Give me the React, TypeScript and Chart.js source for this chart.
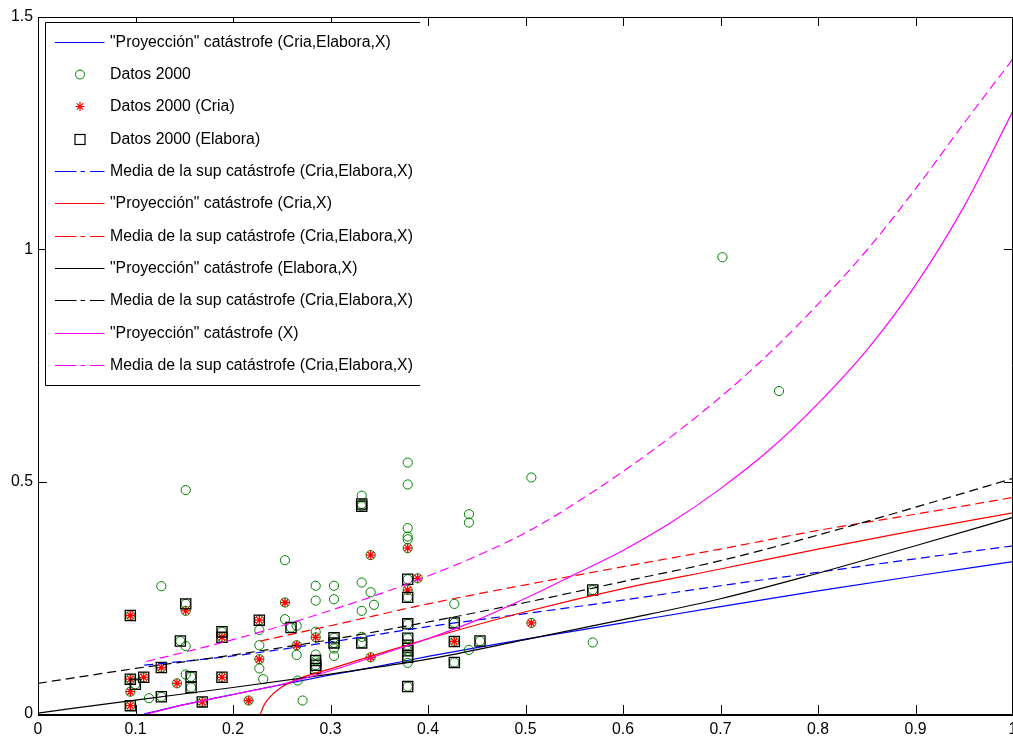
import React, { useEffect, useRef } from 'react';
import { Chart, registerables } from 'chart.js';

Chart.register(...registerables);

// ---------- tick labels ----------
const xTickValues = [0, 0.1, 0.2, 0.3, 0.4, 0.5, 0.6, 0.7, 0.8, 0.9, 1];
const xTickLabels = ['0', '0.1', '0.2', '0.3', '0.4', '0.5', '0.6', '0.7', '0.8', '0.9', '1'];
const yTickValues = [0, 0.5, 1, 1.5];
const yTickLabels = ['0', '0.5', '1', '1.5'];

// ---------- legend labels ----------
const legendLabels = [
  '"Proyección" catástrofe (Cria,Elabora,X)',
  'Datos 2000',
  'Datos 2000 (Cria)',
  'Datos 2000 (Elabora)',
  'Media de la sup catástrofe (Cria,Elabora,X)',
  '"Proyección" catástrofe (Cria,X)',
  'Media de la sup catástrofe (Cria,Elabora,X)',
  '"Proyección" catástrofe (Elabora,X)',
  'Media de la sup catástrofe (Cria,Elabora,X)',
  '"Proyección" catástrofe (X)',
  'Media de la sup catástrofe (Cria,Elabora,X)',
];

// ---------- curves ----------
const blueSolidX = [0.109, 0.15, 0.2, 0.25, 0.3, 0.35, 0.4, 0.45, 0.5, 0.6, 0.7, 0.8, 0.9, 1.0];
const blueSolidY = [0.0, 0.02, 0.042, 0.063, 0.084, 0.103, 0.124, 0.143, 0.161, 0.196, 0.231, 0.265, 0.297, 0.328];

const blueDashX = [0.109, 0.2, 0.3, 0.4, 0.5, 0.6, 0.7, 0.8, 0.9, 1.0];
const blueDashY = [0.105, 0.125, 0.155, 0.188, 0.216, 0.245, 0.276, 0.305, 0.334, 0.362];

const redSolidX = [0.228, 0.232, 0.238, 0.25, 0.27, 0.3, 0.35, 0.4, 0.5, 0.6, 0.7, 0.8, 0.9, 1.0];
const redSolidY = [0.0, 0.02, 0.037, 0.058, 0.078, 0.097, 0.13, 0.162, 0.22, 0.27, 0.312, 0.355, 0.395, 0.433];

const redDashX = [0.228, 0.3, 0.4, 0.5, 0.6, 0.7, 0.8, 0.9, 1.0];
const redDashY = [0.157, 0.19, 0.237, 0.278, 0.317, 0.355, 0.395, 0.43, 0.466];

const blackSolidX = [0, 0.1, 0.2, 0.3, 0.4, 0.5, 0.6, 0.7, 0.8, 0.9, 1.0];
const blackSolidY = [0.002, 0.03, 0.057, 0.086, 0.118, 0.16, 0.203, 0.248, 0.303, 0.362, 0.423];

const blackDashX = [0, 0.1, 0.2, 0.3, 0.4, 0.5, 0.6, 0.7, 0.8, 0.9, 1.0];
const blackDashY = [0.066, 0.098, 0.127, 0.16, 0.198, 0.24, 0.285, 0.33, 0.385, 0.445, 0.507];

const magSolidX = [0.111, 0.15, 0.2, 0.25, 0.3, 0.35, 0.4, 0.45, 0.5, 0.55, 0.6, 0.65, 0.7, 0.75, 0.8, 0.85, 0.9, 0.95, 1.0];
const magSolidY = [0.0, 0.02, 0.042, 0.064, 0.093, 0.127, 0.162, 0.202, 0.249, 0.3, 0.352, 0.413, 0.485, 0.568, 0.668, 0.783, 0.923, 1.093, 1.298];

const magDashX = [0.111, 0.15, 0.2, 0.25, 0.3, 0.35, 0.4, 0.45, 0.5, 0.55, 0.6, 0.65, 0.7, 0.75, 0.8, 0.85, 0.9, 0.95, 1.0];
const magDashY = [0.113, 0.133, 0.16, 0.19, 0.223, 0.258, 0.297, 0.34, 0.39, 0.452, 0.522, 0.598, 0.682, 0.776, 0.882, 0.998, 1.13, 1.272, 1.41];

// ---------- data points ----------
const datosX = [
  0.0947, 0.0947, 0.0947, 0.0947, 0.0998, 0.1084, 0.1138, 0.1265, 0.1265, 0.1265,
  0.1426, 0.146, 0.1515, 0.1515, 0.1515, 0.1515, 0.1515, 0.157, 0.157, 0.1685,
  0.1887, 0.1887, 0.1887, 0.216, 0.227, 0.227, 0.227, 0.227, 0.227, 0.231,
  0.2533, 0.2533, 0.2533, 0.2595, 0.2653, 0.2653, 0.2653, 0.2663, 0.2714,
  0.2848, 0.2848, 0.2848, 0.2848, 0.2848, 0.2848, 0.2848, 0.2848,
  0.3036, 0.3036, 0.3036, 0.3036, 0.3036, 0.3036,
  0.332, 0.332, 0.332, 0.332, 0.332, 0.332, 0.332,
  0.3412, 0.3412, 0.3412, 0.3446,
  0.3792, 0.3792, 0.3792, 0.3792, 0.3792, 0.3792, 0.3792, 0.3792, 0.3792, 0.3792, 0.3792, 0.3792, 0.3792, 0.3792, 0.3792, 0.3792,
  0.3894, 0.427, 0.427, 0.427, 0.427, 0.442, 0.442, 0.442, 0.4533,
  0.506, 0.506, 0.569, 0.569, 0.702, 0.76,
];
const datosY = [
  0.212, 0.075, 0.048, 0.018, 0.064, 0.079, 0.034, 0.275, 0.1, 0.037,
  0.066, 0.157, 0.482, 0.237, 0.222, 0.146, 0.085, 0.08, 0.057, 0.026,
  0.177, 0.165, 0.079, 0.029, 0.202, 0.181, 0.148, 0.118, 0.098, 0.075,
  0.331, 0.24, 0.204, 0.186, 0.19, 0.148, 0.127, 0.072, 0.029,
  0.276, 0.244, 0.177, 0.165, 0.128, 0.115, 0.105, 0.098,
  0.276, 0.247, 0.164, 0.153, 0.141, 0.125,
  0.47, 0.452, 0.447, 0.283, 0.222, 0.166, 0.153,
  0.342, 0.262, 0.122, 0.235,
  0.541, 0.494, 0.4, 0.382, 0.376, 0.357, 0.29, 0.267, 0.251, 0.194, 0.163, 0.148, 0.136, 0.122, 0.11, 0.059,
  0.292, 0.237, 0.196, 0.156, 0.111, 0.43, 0.412, 0.138, 0.157,
  0.509, 0.196, 0.267, 0.154, 0.983, 0.695,
];

const criaX = [
  0.0947, 0.0947, 0.0947, 0.0947, 0.1084, 0.1265, 0.1426, 0.1515, 0.1685, 0.1887, 0.1887,
  0.216, 0.227, 0.227, 0.2533, 0.2653, 0.2848, 0.3412, 0.3412, 0.3792, 0.3792, 0.3894, 0.427, 0.506,
];
const criaY = [
  0.212, 0.075, 0.048, 0.018, 0.079, 0.1, 0.066, 0.222, 0.026, 0.165, 0.079,
  0.029, 0.202, 0.118, 0.24, 0.148, 0.165, 0.342, 0.122, 0.357, 0.267, 0.292, 0.156, 0.196,
];

const elaboraX = [
  0.0947, 0.0947, 0.0947, 0.0998, 0.1084, 0.1265, 0.1265, 0.146, 0.1515, 0.157, 0.157, 0.1685,
  0.1887, 0.1887, 0.1887, 0.227, 0.2595, 0.2848, 0.2848, 0.2848, 0.3036, 0.3036,
  0.332, 0.332, 0.332,
  0.3792, 0.3792, 0.3792, 0.3792, 0.3792, 0.3792, 0.3792, 0.3792,
  0.427, 0.427, 0.427, 0.4533, 0.569,
];
const elaboraY = [
  0.212, 0.075, 0.018, 0.064, 0.079, 0.1, 0.037, 0.157, 0.237, 0.08, 0.057, 0.026,
  0.177, 0.165, 0.079, 0.202, 0.186, 0.115, 0.105, 0.098, 0.164, 0.153,
  0.452, 0.447, 0.153,
  0.29, 0.251, 0.194, 0.163, 0.148, 0.136, 0.122, 0.059,
  0.196, 0.156, 0.111, 0.157, 0.267,
];

const BLUE = 'rgb(0,0,255)';
const RED = 'rgb(255,0,0)';
const BLACK = 'rgb(0,0,0)';
const MAGENTA = 'rgb(255,0,255)';
const GREEN = 'rgb(0,128,0)';
const DASH = [9, 5];
const FONT = '15.8px "Liberation Sans", Arial, Helvetica, sans-serif';

const zip = (xs: number[], ys: number[]) => xs.map((x, i) => ({ x, y: ys[i] }));

const lineDs = (label: string, xs: number[], ys: number[], color: string, dashed: boolean) => ({
  label,
  data: zip(xs, ys),
  showLine: true,
  borderColor: color,
  backgroundColor: color,
  borderWidth: 1.2,
  borderDash: dashed ? DASH : [],
  pointRadius: 0,
  pointHoverRadius: 0,
  cubicInterpolationMode: 'monotone' as const,
  fill: false,
});

const legendRows = [
  { kind: 'line', color: BLUE, dashed: false },
  { kind: 'circle', color: GREEN },
  { kind: 'star', color: RED },
  { kind: 'rect', color: BLACK },
  { kind: 'line', color: BLUE, dashed: true },
  { kind: 'line', color: RED, dashed: false },
  { kind: 'line', color: RED, dashed: true },
  { kind: 'line', color: BLACK, dashed: false },
  { kind: 'line', color: BLACK, dashed: true },
  { kind: 'line', color: MAGENTA, dashed: false },
  { kind: 'line', color: MAGENTA, dashed: true },
];

const framePlugin = {
  id: 'matlabFrame',
  afterDraw(chart: any) {
    const ctx = chart.ctx as CanvasRenderingContext2D;
    const { left, top, right, bottom } = chart.chartArea;
    const xs = chart.scales.x;
    const ys = chart.scales.y;
    ctx.save();
    ctx.strokeStyle = '#000';
    ctx.fillStyle = '#000';
    ctx.lineWidth = 1;
    ctx.setLineDash([]);
    // box
    ctx.beginPath();
    ctx.moveTo(left + 0.5, bottom);
    ctx.lineTo(left + 0.5, top + 0.5);
    ctx.lineTo(right - 0.5, top + 0.5);
    ctx.lineTo(right - 0.5, bottom);
    ctx.stroke();
    ctx.fillRect(left, bottom, right - left, 2);
    // ticks (inward, on all sides)
    const TL = 9;
    ctx.beginPath();
    xTickValues.forEach((v) => {
      const px = Math.round(xs.getPixelForValue(v)) + 0.5;
      ctx.moveTo(px, bottom);
      ctx.lineTo(px, bottom - TL);
      ctx.moveTo(px, top);
      ctx.lineTo(px, top + TL);
    });
    yTickValues.forEach((v) => {
      const py = Math.round(ys.getPixelForValue(v)) + 0.5;
      ctx.moveTo(left, py);
      ctx.lineTo(left + TL, py);
      ctx.moveTo(right, py);
      ctx.lineTo(right - TL, py);
    });
    ctx.stroke();
    // tick labels
    ctx.font = FONT;
    ctx.textAlign = 'center';
    ctx.textBaseline = 'top';
    xTickValues.forEach((v, i) => {
      ctx.fillText(xTickLabels[i], xs.getPixelForValue(v), bottom + 8);
    });
    ctx.textAlign = 'right';
    ctx.textBaseline = 'middle';
    yTickValues.forEach((v, i) => {
      ctx.fillText(yTickLabels[i], left - 5, ys.getPixelForValue(v));
    });

    // legend
    const LX = 45, LY = 22, LW = 375, LH = 363;
    ctx.fillStyle = '#fff';
    ctx.fillRect(LX, LY, LW, LH);
    ctx.strokeStyle = '#000';
    ctx.beginPath();
    ctx.moveTo(LX + LW, LY + 0.5);
    ctx.lineTo(LX + 0.5, LY + 0.5);
    ctx.lineTo(LX + 0.5, LY + LH + 0.5);
    ctx.lineTo(LX + LW, LY + LH + 0.5);
    ctx.stroke();
    const rowY0 = 41.7;
    const rowStep = 32.33;
    legendRows.forEach((row: any, i) => {
      const cy = Math.round(rowY0 + i * rowStep) + 0.5;
      ctx.save();
      ctx.strokeStyle = row.color;
      ctx.lineWidth = 1.2;
      if (row.kind === 'line') {
        ctx.setLineDash(row.dashed ? [21.5, 4, 4.5, 5] : []);
        ctx.beginPath();
        ctx.moveTo(55, cy);
        ctx.lineTo(104.5, cy);
        ctx.stroke();
      } else if (row.kind === 'circle') {
        ctx.lineWidth = 1;
        ctx.beginPath();
        ctx.arc(80, cy, 4.5, 0, Math.PI * 2);
        ctx.stroke();
      } else if (row.kind === 'star') {
        const r = 4.5;
        ctx.beginPath();
        for (let k = 0; k < 4; k++) {
          const a = (k * Math.PI) / 4;
          ctx.moveTo(80 - r * Math.cos(a), cy - r * Math.sin(a));
          ctx.lineTo(80 + r * Math.cos(a), cy + r * Math.sin(a));
        }
        ctx.stroke();
      } else if (row.kind === 'rect') {
        ctx.strokeRect(75, cy - 5, 10, 10);
      }
      ctx.restore();
      ctx.fillStyle = '#000';
      ctx.font = FONT;
      ctx.textAlign = 'left';
      ctx.textBaseline = 'middle';
      ctx.fillText(legendLabels[i], 110, cy);
    });
    ctx.restore();
  },
};

export default function App() {
  const canvasRef = useRef<HTMLCanvasElement | null>(null);

  useEffect(() => {
    if (!canvasRef.current) return;
    const datasets: any[] = [
      lineDs(legendLabels[0], blueSolidX, blueSolidY, BLUE, false),
      {
        label: legendLabels[1],
        data: zip(datosX, datosY),
        showLine: false,
        pointStyle: 'circle',
        pointRadius: 4.6,
        pointHoverRadius: 4.6,
        borderColor: GREEN,
        backgroundColor: 'rgba(0,0,0,0)',
        pointBorderWidth: 1,
      },
      {
        label: legendLabels[2],
        data: zip(criaX, criaY),
        showLine: false,
        pointStyle: 'star',
        pointRadius: 4.6,
        pointHoverRadius: 4.6,
        borderColor: RED,
        backgroundColor: RED,
        pointBorderWidth: 1.3,
      },
      {
        label: legendLabels[3],
        data: zip(elaboraX, elaboraY),
        showLine: false,
        pointStyle: 'rect',
        pointRadius: 7.2,
        pointHoverRadius: 7.2,
        borderColor: BLACK,
        backgroundColor: 'rgba(0,0,0,0)',
        pointBorderWidth: 1.3,
      },
      lineDs(legendLabels[4], blueDashX, blueDashY, BLUE, true),
      lineDs(legendLabels[5], redSolidX, redSolidY, RED, false),
      lineDs(legendLabels[6], redDashX, redDashY, RED, true),
      lineDs(legendLabels[7], blackSolidX, blackSolidY, BLACK, false),
      lineDs(legendLabels[8], blackDashX, blackDashY, BLACK, true),
      lineDs(legendLabels[9], magSolidX, magSolidY, MAGENTA, false),
      lineDs(legendLabels[10], magDashX, magDashY, MAGENTA, true),
    ];
    const n = datasets.length;
    datasets.forEach((d, i) => (d.order = n - i));

    const chart = new Chart(canvasRef.current, {
      type: 'scatter',
      data: { datasets },
      options: {
        animation: false,
        responsive: false,
        devicePixelRatio: 1,
        events: [],
        layout: { autoPadding: false, padding: { left: 38, top: 17, right: 0, bottom: 26 } },
        plugins: {
          legend: { display: false },
          tooltip: { enabled: false },
          title: { display: false },
        },
        scales: {
          x: { type: 'linear', min: 0, max: 1, display: false },
          y: { type: 'linear', min: 0, max: 1.5, display: false },
        },
      },
      plugins: [framePlugin],
    } as any);
    return () => chart.destroy();
  }, []);

  return (
    <div style={{ position: 'fixed', left: 0, top: 0, width: 1013, height: 740, background: '#fff' }}>
      <canvas ref={canvasRef} width={1013} height={740} style={{ width: 1013, height: 740, display: 'block' }} />
    </div>
  );
}
